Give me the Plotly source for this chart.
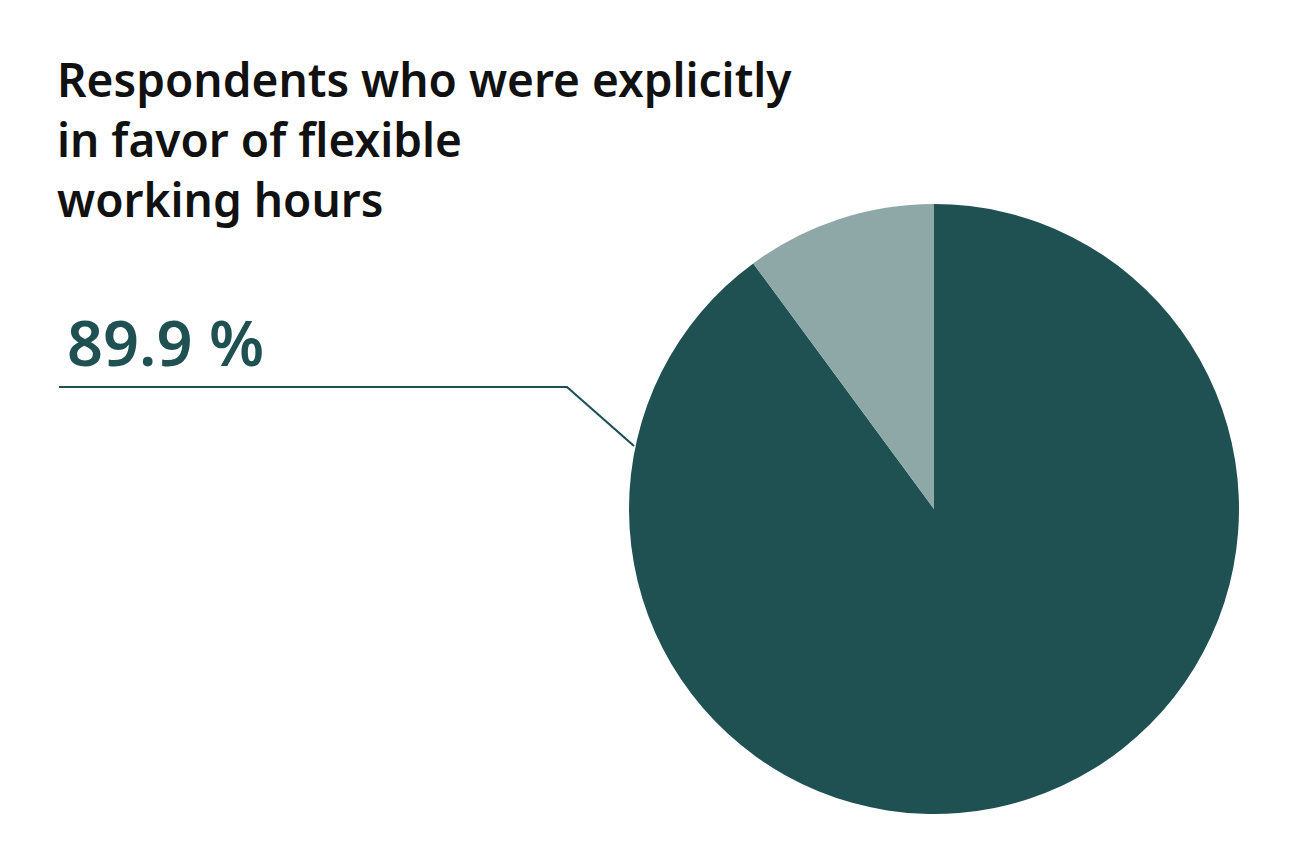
import plotly.graph_objects as go

# Share of respondents (in %)
labels = ['In favor of flexible working hours', 'Not explicitly in favor']
values = [89.9, 10.1]
colors = ['#1f5153', '#8da8a7']

W, H = 1300, 866
OFF = 8  # page body margin


def px(x):
    return (x - OFF) / W


def py(y):
    return 1 - (y - OFF) / H


fig = go.Figure(go.Pie(
    labels=labels, values=values,
    marker=dict(colors=colors, line=dict(width=0)),
    sort=False, direction='clockwise', rotation=0,
    textinfo='none', hoverinfo='label+percent',
    domain=dict(x=[px(628), px(1240)], y=[py(814), py(204)]),
    showlegend=False,
))

# title, big number and leader line
fig.add_annotation(
    text='Respondents who were explicitly<br>in favor of flexible<br>working hours',
    x=px(55), y=py(46), xref='paper', yref='paper',
    xanchor='left', yanchor='top', align='left', showarrow=False,
    font=dict(family='Noto Sans', size=46, color='#111111', weight=600),
)
fig.add_annotation(
    text=f'{values[0]:.1f} %',
    x=px(65), y=py(297), xref='paper', yref='paper',
    xanchor='left', yanchor='top', showarrow=False,
    font=dict(family='Noto Sans', size=63, color=colors[0], weight=600),
)
fig.add_shape(
    type='path', xref='paper', yref='paper',
    path=f'M {px(59)},{py(387)} L {px(567)},{py(387)} L {px(634)},{py(446)}',
    line=dict(color=colors[0], width=2.2),
)

fig.update_layout(
    width=W, height=H,
    margin=dict(l=0, r=0, t=0, b=0),
    paper_bgcolor='white', plot_bgcolor='white',
)

fig.write_html('out.html')
